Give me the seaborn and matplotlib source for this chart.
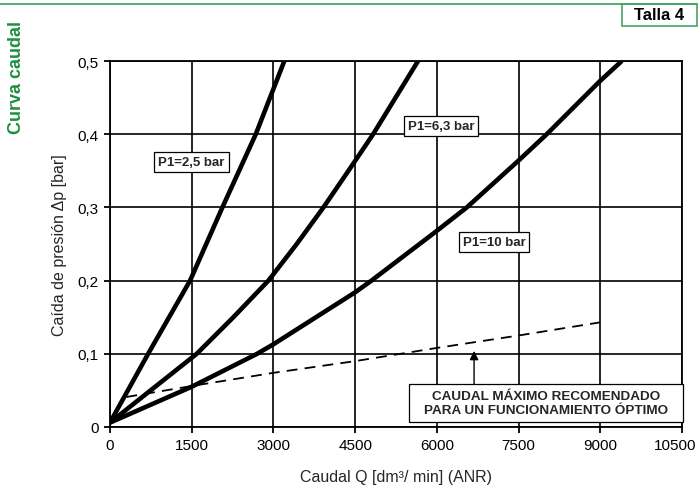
import matplotlib
matplotlib.use("Agg")
import matplotlib.pyplot as plt
import matplotlib.transforms as mtransforms
import seaborn as sns
import pandas as pd
from matplotlib.lines import Line2D
from matplotlib.patches import Rectangle

# ---- data ----
q_25 = [0, 700, 1470, 2063, 2676, 3200]
dp_25 = [0.006, 0.100, 0.200, 0.300, 0.400, 0.500]

q_63 = [0, 1592, 2265, 2908, 3428, 3918, 4377, 4830, 5655]
dp_63 = [0.006, 0.100, 0.150, 0.200, 0.250, 0.300, 0.350, 0.400, 0.500]

q_10 = [0, 1500, 2700, 3000, 4500, 4800, 6000, 6550, 7500, 8017, 9000, 9395]
dp_10 = [0.006, 0.055, 0.100, 0.113, 0.184, 0.200, 0.268, 0.300, 0.364,
         0.400, 0.473, 0.500]

q_max = [300, 1500, 3000, 4500, 6000, 7500, 9000]
dp_max = [0.041, 0.056, 0.074, 0.090, 0.108, 0.125, 0.143]

series_labels = ["P1=2,5 bar", "P1=6,3 bar", "P1=10 bar"]
label_pos_q = [1497, 6077, 7050]
label_pos_dp = [0.362, 0.411, 0.253]

x_ticks = [0, 1500, 3000, 4500, 6000, 7500, 9000, 10500]
y_ticks = [0, 0.1, 0.2, 0.3, 0.4, 0.5]
y_tick_labels = ["0", "0,1", "0,2", "0,3", "0,4", "0,5"]

note_text = "CAUDAL MÁXIMO RECOMENDADO\nPARA UN FUNCIONAMIENTO ÓPTIMO"
note_q = 8004
note_dp = 0.0328
arrow_q = 6683
x_label = "Caudal Q [dm³/ min] (ANR)"
y_label = "Caída de presión Δp [bar]"
side_title = "Curva caudal"
badge = "Talla 4"

# ---- plotting ----
sns.set_theme(style="white")
plt.rcParams["font.family"] = ["Liberation Sans", "DejaVu Sans"]

green = "#1f8f3f"
green_light = "#4aa463"

fig = plt.figure(figsize=(6.99, 4.89), dpi=100)
ax = fig.add_axes([110 / 699, 1 - 428 / 489, (682 - 110) / 699, (428 - 62) / 489])

curves = pd.concat([
    pd.DataFrame({"Q": q_25, "dp": dp_25, "serie": series_labels[0]}),
    pd.DataFrame({"Q": q_63, "dp": dp_63, "serie": series_labels[1]}),
    pd.DataFrame({"Q": q_10, "dp": dp_10, "serie": series_labels[2]}),
])
for s in series_labels:
    sub = curves[curves["serie"] == s]
    sns.lineplot(data=sub, x="Q", y="dp", ax=ax, color="black", lw=3.3,
                 sort=False, estimator=None, zorder=4)
for ln in ax.lines:
    ln.set_solid_joinstyle("round")
    ln.set_solid_capstyle("butt")

dash = pd.DataFrame({"Q": q_max, "dp": dp_max})
sns.lineplot(data=dash, x="Q", y="dp", ax=ax, color="black", lw=1.3,
             estimator=None, zorder=4)
ax.lines[-1].set_dashes([6, 4])

ax.set_xlim(0, 10500)
ax.set_ylim(0, 0.5)
ax.set_xticks(x_ticks)
ax.set_xticklabels([str(v) for v in x_ticks], fontsize=11)
ax.set_yticks(y_ticks)
ax.set_yticklabels(y_tick_labels, fontsize=11)
ax.grid(True, color="black", lw=1.2)
ax.set_axisbelow(True)
for sp in ax.spines.values():
    sp.set_visible(True)
    sp.set_color("black")
    sp.set_linewidth(1.3)
ax.tick_params(axis="both", which="both", direction="out", length=4, width=1.3,
               colors="black", pad=4, bottom=True, left=True)
last = ax.get_xticklabels()[-1]
last.set_transform(last.get_transform() +
                   mtransforms.ScaledTranslation(-7 / 100, 0, fig.dpi_scale_trans))
ax.set_xlabel(x_label, fontsize=11.5, labelpad=12)
ax.set_ylabel(y_label, fontsize=11.5, labelpad=8)

for lab, qx, dy in zip(series_labels, label_pos_q, label_pos_dp):
    ax.text(qx, dy, lab, fontsize=9.5, fontweight="bold", ha="center", va="center",
            zorder=6,
            bbox=dict(boxstyle="square,pad=0.3", fc="white", ec="black", lw=0.9))

# note box + arrow (box outline in axes fractions)
box_l = (409 - 110) / 572
box_r = (683 - 110) / 572
box_b = (428 - 423) / 366
box_t = (428 - 385) / 366
ax.add_patch(Rectangle((box_l, box_b), box_r - box_l, box_t - box_b,
                       transform=ax.transAxes, fc="white", ec="black", lw=0.9,
                       zorder=5, clip_on=False))
ax.text(note_q, note_dp, note_text, fontsize=9.7, fontweight="bold", ha="center",
        va="center", linespacing=1.2, zorder=6)
ax.annotate("", xy=(arrow_q, 0.104), xytext=(arrow_q, 0.0587),
            arrowprops=dict(arrowstyle="-|>", color="black", lw=1.0,
                            mutation_scale=13, shrinkA=0, shrinkB=0), zorder=6)

# header decorations
fig.add_artist(Line2D([0, 697 / 699], [1 - 4.5 / 489, 1 - 4.5 / 489],
                      transform=fig.transFigure, color=green_light, lw=1.3))
fig.add_artist(Rectangle((622 / 699, 1 - 27 / 489), 75 / 699, 22.5 / 489,
                         transform=fig.transFigure, fc="white", ec=green_light, lw=1.2))
fig.text(659.5 / 699, 1 - 16 / 489, badge, fontsize=12, fontweight="bold",
         ha="center", va="center", color="black")
fig.text(16.5 / 699, 1 - 77 / 489, side_title, fontsize=13, fontweight="bold",
         rotation=90, ha="center", va="center", color=green)

fig.savefig("out.png", dpi=100)
